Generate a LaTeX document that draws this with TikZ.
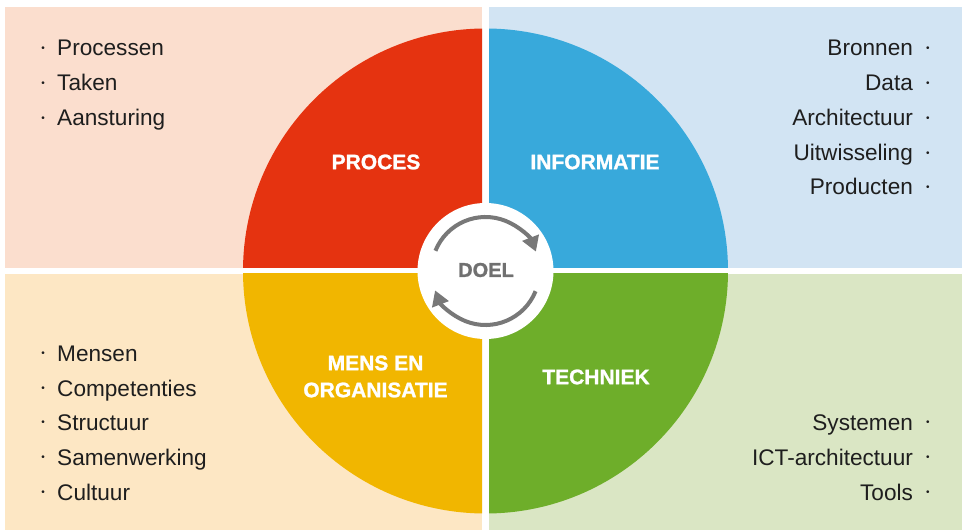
\documentclass[tikz,border=0pt]{standalone}
\usepackage{fontspec}
\setmainfont{Liberation Sans}
\usetikzlibrary{arrows.meta}
\definecolor{bgred}{RGB}{251,222,206}
\definecolor{bgblue}{RGB}{210,228,243}
\definecolor{bgyellow}{RGB}{253,231,196}
\definecolor{bggreen}{RGB}{218,230,196}
\definecolor{secred}{RGB}{229,51,16}
\definecolor{secblue}{RGB}{56,169,219}
\definecolor{secyellow}{RGB}{241,182,0}
\definecolor{secgreen}{RGB}{110,174,42}
\definecolor{arrowgray}{RGB}{120,120,120}
\definecolor{doelgray}{RGB}{112,112,112}
\definecolor{textdark}{RGB}{30,30,30}
\newcommand{\bul}{{\fontsize{10}{10}\selectfont\raisebox{4.5pt}{•}}}
\begin{document}
\begin{tikzpicture}[x=1pt,y=1pt,
  item/.style={text=textdark, font=\fontsize{22.6}{26}\selectfont, inner sep=0pt},
  lbl/.style={text=white, font=\fontsize{21}{27}\selectfont\bfseries\addfontfeature{FakeBold=1.2}, align=center, inner sep=0pt},
  cyc/.style={draw=arrowgray, line width=4pt, -{Triangle[length=15pt,width=17pt]}}]
\fill[white] (0,0) rectangle (962,531);
\useasboundingbox (0,0) rectangle (962,531);
\coordinate (c) at (485.5,260);
% quadrants
\begin{scope}
  \clip (5,263) rectangle (482,524);
  \fill[bgred] (5,263) rectangle (482,524);
  \fill[secred] (c) circle[radius=242.5];
\end{scope}
\begin{scope}
  \clip (489,263) rectangle (962,524);
  \fill[bgblue] (489,263) rectangle (962,524);
  \fill[secblue] (c) circle[radius=242.5];
\end{scope}
\begin{scope}
  \clip (5,1) rectangle (482,257);
  \fill[bgyellow] (5,1) rectangle (482,257);
  \fill[secyellow] (c) circle[radius=242.5];
\end{scope}
\begin{scope}
  \clip (489,1) rectangle (962,257);
  \fill[bggreen] (489,1) rectangle (962,257);
  \fill[secgreen] (c) circle[radius=242.5];
\end{scope}
% centre
\fill[white] (c) circle[radius=68];
\draw[cyc] ([shift={(158:54)}]c) arc[start angle=158,end angle=21,radius=54];
\draw[cyc] ([shift={(-22:54)}]c) arc[start angle=-22,end angle=-159,radius=54];
\node[text=doelgray, font=\fontsize{20}{24}\selectfont\bfseries\addfontfeature{FakeBold=1.2}, inner sep=0pt] (doel) at (486,261) {DOEL};
% labels
\node[lbl] (proces) at (376,369) {PROCES};
\node[lbl] (informatie) at (595,369) {INFORMATIE};
\node[lbl] (mens) at (375.5,154.5) {MENS EN\\ORGANISATIE};
\node[lbl] (techniek) at (596,154) {TECHNIEK};
% lists
\node[item, anchor=base west] (p1) at (41.2,475) {\bul\hskip 12.3pt Processen};
\node[item, anchor=base west] (p2) at (41.2,440) {\bul\hskip 12.3pt Taken};
\node[item, anchor=base west] (p3) at (41.2,405) {\bul\hskip 12.3pt Aansturing};
\node[item, anchor=base east] (i1) at (929.8,475) {Bronnen\hskip 13.2pt \bul};
\node[item, anchor=base east] (i2) at (929.8,440) {Data\hskip 13.2pt \bul};
\node[item, anchor=base east] (i3) at (929.8,405) {Architectuur\hskip 13.2pt \bul};
\node[item, anchor=base east] (i4) at (929.8,370) {Uitwisseling\hskip 13.2pt \bul};
\node[item, anchor=base east] (i5) at (929.8,336) {Producten\hskip 13.2pt \bul};
\node[item, anchor=base west] (m1) at (41.2,170) {\bul\hskip 12.3pt Mensen};
\node[item, anchor=base west] (m2) at (41.2,135) {\bul\hskip 12.3pt Competenties};
\node[item, anchor=base west] (m3) at (41.2,101) {\bul\hskip 12.3pt Structuur};
\node[item, anchor=base west] (m4) at (41.2,66) {\bul\hskip 12.3pt Samenwerking};
\node[item, anchor=base west] (m5) at (41.2,31) {\bul\hskip 12.3pt Cultuur};
\node[item, anchor=base east] (t1) at (929.8,101) {Systemen\hskip 13.2pt \bul};
\node[item, anchor=base east] (t2) at (929.8,66) {ICT-architectuur\hskip 13.2pt \bul};
\node[item, anchor=base east] (t3) at (929.8,31) {Tools\hskip 13.2pt \bul};
\end{tikzpicture}
\end{document}
